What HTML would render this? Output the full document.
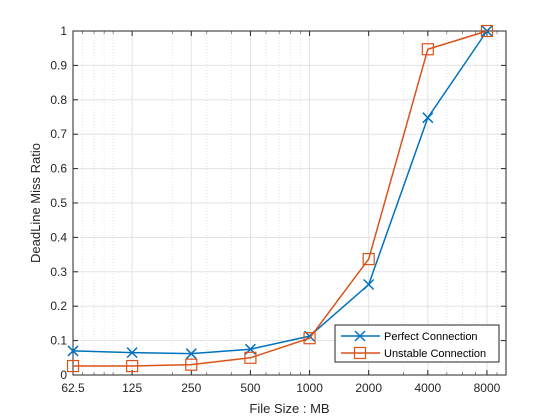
<!DOCTYPE html>
<html><head><meta charset="utf-8"><style>
body{margin:0;background:#fff}
svg{display:block;font-family:"Liberation Sans",Arial,sans-serif}
</style></head><body>
<svg id="chart" width="560" height="420" viewBox="0 0 560 420" xmlns="http://www.w3.org/2000/svg">
<rect width="560" height="420" fill="#fff"/>
<g id="grid"></g>
<g id="axes"></g>
<g id="series"></g>
<g id="legend"></g>
</svg>
<script>
const categories = [62.5, 125, 250, 500, 1000, 2000, 4000, 8000];
const tickLabels = ["62.5","125","250","500","1000","2000","4000","8000"];
const perfect = [0.07, 0.065, 0.062, 0.075, 0.113, 0.263, 0.748, 1.0];
const unstable = [0.026, 0.026, 0.03, 0.05, 0.107, 0.337, 0.947, 1.0];
const yTicks = [0,0.1,0.2,0.3,0.4,0.5,0.6,0.7,0.8,0.9,1];
const yTickLabels = ["0","0.1","0.2","0.3","0.4","0.5","0.6","0.7","0.8","0.9","1"];

const NS="http://www.w3.org/2000/svg";
const L=73,R=506,T=31,B=375, xmin=62.5, xmax=10000;
function xs(v){return L+(Math.log(v)-Math.log(xmin))/(Math.log(xmax)-Math.log(xmin))*(R-L);}
function ys(v){return B-v*(B-T);}
function mk(tag,attrs,parent){const e=document.createElementNS(NS,tag);for(const k in attrs)e.setAttribute(k,attrs[k]);parent.appendChild(e);return e;}
const grid=document.getElementById('grid'),axes=document.getElementById('axes'),ser=document.getElementById('series'),leg=document.getElementById('legend');

// minor grid (log10 minors)
for(let d=10;d<=10000;d*=10){for(let m=1;m<10;m++){const v=d*m;if(v<=xmin||v>=xmax)continue;
 const x=xs(v);
 const g=mk('line',{x1:x,x2:x,y1:T,y2:B,stroke:'#d0d0d0','stroke-width':0.6,'stroke-dasharray':'1 2'},grid);
 
 
 mk('line',{x1:x,x2:x,y1:B,y2:B-3,stroke:'#262626','stroke-width':0.5},grid);
 mk('line',{x1:x,x2:x,y1:T,y2:T+3,stroke:'#262626','stroke-width':0.5},grid);
}}
// major x grid + ticks
categories.forEach((v,i)=>{const x=xs(v);
 const g=mk('line',{x1:x,x2:x,y1:T,y2:B,stroke:'#e3e3e3','stroke-width':1},grid);
 
 
 mk('line',{x1:x,x2:x,y1:B,y2:B-5,stroke:'#262626','stroke-width':1},axes);
 mk('line',{x1:x,x2:x,y1:T,y2:T+5,stroke:'#262626','stroke-width':1},axes);
 const t=mk('text',{x:x,y:B+17,'text-anchor':'middle','font-size':12,fill:'#262626'},axes);
 t.textContent=tickLabels[i];
 
 
});
yTicks.forEach((v,i)=>{const y=ys(v);
 const g=mk('line',{x1:L,x2:R,y1:y,y2:y,stroke:'#e3e3e3','stroke-width':1},grid);
 
 
 mk('line',{x1:L,x2:L+5,y1:y,y2:y,stroke:'#262626','stroke-width':1},axes);
 mk('line',{x1:R,x2:R-5,y1:y,y2:y,stroke:'#262626','stroke-width':1},axes);
 const t=mk('text',{x:L-6,y:y+4,'text-anchor':'end','font-size':12,fill:'#262626'},axes);
 t.textContent=yTickLabels[i];
 
 
});
const box=mk('rect',{x:L,y:T,width:R-L,height:B-T,fill:'none',stroke:'#262626','stroke-width':1},axes);


const xl=mk('text',{x:(L+R)/2,y:413,'text-anchor':'middle','font-size':13,fill:'#262626'},axes);
xl.textContent='File Size : MB';


const yl=mk('text',{x:0,y:0,'text-anchor':'middle','font-size':13,fill:'#262626',transform:`translate(40,${(T+B)/2}) rotate(-90)`},axes);
yl.textContent='DeadLine Miss Ratio';



function drawX(x,y,c,p){mk('path',{d:`M${x-5},${y-5}L${x+5},${y+5}M${x-5},${y+5}L${x+5},${y-5}`,stroke:c,'stroke-width':1.5,fill:'none'},p);}
function drawSq(x,y,c,p){mk('rect',{x:x-5.5,y:y-5.5,width:11,height:11,stroke:c,'stroke-width':1.2,fill:'none'},p);}
function series(vals,c,marker,name){
 const g=mk('g',{},ser);
 
 
 const pts=vals.map((v,i)=>xs(categories[i])+','+ys(v)).join(' ');
 mk('polyline',{points:pts,fill:'none',stroke:c,'stroke-width':1.5},g);
 vals.forEach((v,i)=>marker(xs(categories[i]),ys(v),c,g));
}
series(perfect,'#0072BD',drawX,'series-perfect-connection');
series(unstable,'#D95319',drawSq,'series-unstable-connection');

const lb=mk('rect',{x:335,y:325,width:164,height:37,fill:'#fff',stroke:'#262626','stroke-width':1},leg);


[['Perfect Connection','#0072BD',drawX,336],['Unstable Connection','#D95319',drawSq,353]].forEach(e=>{
 const g=mk('g',{},leg);
 
 
 mk('line',{x1:341,x2:380,y1:e[3],y2:e[3],stroke:e[1],'stroke-width':1.5},g);
 e[2](360,e[3],e[1],g);
 const t=mk('text',{x:384,y:e[3]+4,'font-size':11,fill:'#000'},g);
 t.textContent=e[0];
});
</script>
</body></html>
